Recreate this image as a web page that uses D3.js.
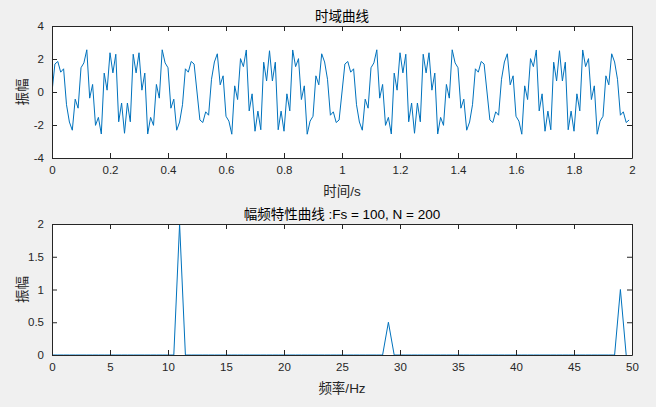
<!DOCTYPE html>
<html><head><meta charset="utf-8">
<script src="https://cdn.jsdelivr.net/npm/d3@7"></script>
<style>body{margin:0;background:#f0f0f0;}svg{display:block;}</style>
</head><body><svg id="c" width="656" height="407"></svg>
<script>
// time-domain samples (Fs = 100, N = 200), read/derived from the picture
const signalY = [
0,1.696,1.849,1.201,1.407,-0.772,-1.820,-2.316,-0.435,-0.981,1.470,1.765,2.558,-0.373,0.458,-2.022,-1.537,-2.547,1.145,0.111,2.377,1.159,2.288,-1.805,-0.667,
-2.500,-0.667,-1.805,2.288,1.159,2.377,0.111,1.145,-2.547,-1.537,-2.022,0.458,-0.373,2.558,1.765,1.470,-0.981,-0.435,-2.316,-1.820,-0.772,1.407,1.201,1.849,1.696,
0,-1.696,-1.849,-1.201,-1.407,0.772,1.820,2.316,0.435,0.981,-1.470,-1.765,-2.558,0.373,-0.458,2.022,1.537,2.547,-1.145,-0.111,-2.377,-1.159,-2.288,1.805,0.667,
2.500,0.667,1.805,-2.288,-1.159,-2.377,-0.111,-1.145,2.547,1.537,2.022,-0.458,0.373,-2.558,-1.765,-1.470,0.981,0.435,2.316,1.820,0.772,-1.407,-1.201,-1.849,-1.696,
0,1.696,1.849,1.201,1.407,-0.772,-1.820,-2.316,-0.435,-0.981,1.470,1.765,2.558,-0.373,0.458,-2.022,-1.537,-2.547,1.145,0.111,2.377,1.159,2.288,-1.805,-0.667,
-2.500,-0.667,-1.805,2.288,1.159,2.377,0.111,1.145,-2.547,-1.537,-2.022,0.458,-0.373,2.558,1.765,1.470,-0.981,-0.435,-2.316,-1.820,-0.772,1.407,1.201,1.849,1.696,
0,-1.696,-1.849,-1.201,-1.407,0.772,1.820,2.316,0.435,0.981,-1.470,-1.765,-2.558,0.373,-0.458,2.022,1.537,2.547,-1.145,-0.111,-2.377,-1.159,-2.288,1.805,0.667,
2.500,0.667,1.805,-2.288,-1.159,-2.377,-0.111,-1.145,2.547,1.537,2.022,-0.458,0.373,-2.558,-1.765,-1.470,0.981,0.435,2.316,1.820,0.772,-1.407,-1.201,-1.849,-1.696
];
const timeStep = 0.01;
// amplitude spectrum, bins 0..49.5 Hz step 0.5
const spectrumY = [
0,0,0,0,0,0,0,0,0,0, 0,0,0,0,0,0,0,0,0,0, 0,0,2,0,0,0,0,0,0,0,
0,0,0,0,0,0,0,0,0,0, 0,0,0,0,0,0,0,0,0,0, 0,0,0,0,0,0,0,0,0.5,0,
0,0,0,0,0,0,0,0,0,0, 0,0,0,0,0,0,0,0,0,0, 0,0,0,0,0,0,0,0,0,0,
0,0,0,0,0,0,0,0,1,0
];
const freqStep = 0.5;
const xTicksTop = [0,0.2,0.4,0.6,0.8,1,1.2,1.4,1.6,1.8,2];
const yTicksTop = [-4,-2,0,2,4];
const xTicksBot = [0,5,10,15,20,25,30,35,40,45,50];
const yTicksBot = [0,0.5,1,1.5,2];

const svg = d3.select("#c");
const AX = "#262626", LINE = "#0072BD";
const FONT = "'Liberation Sans', 'Noto Sans CJK SC', sans-serif";

function panel(cfg){
  const {left,right,top,bottom,xd,yd,xt,yt,data,step,title,xlabel,ylabel} = cfg;
  const x = d3.scaleLinear().domain(xd).range([left,right]);
  const y = d3.scaleLinear().domain(yd).range([bottom,top]);
  const g = svg.append("g");
  g.append("rect").attr("x",left).attr("y",top).attr("width",right-left).attr("height",bottom-top).attr("fill","#fff");
  const clipId = "clip"+top;
  svg.append("clipPath").attr("id",clipId).append("rect").attr("x",left).attr("y",top-1).attr("width",right-left).attr("height",bottom-top+2);
  g.append("path").datum(data).attr("clip-path",`url(#${clipId})`)
    .attr("fill","none").attr("stroke",LINE).attr("stroke-width",1)
    .attr("d", d3.line().x((d,i)=>x(i*step)).y(d=>y(d)));
  const fmt = d=>String(d);
  const ax = (gen, tr)=> g.append("g").attr("transform",tr).call(gen)
    .call(s=>{s.select(".domain").attr("stroke",AX);s.selectAll("line").attr("stroke",AX);
      s.selectAll("text").attr("fill",AX).style("font-family",FONT).style("font-size","11.5px");});
  ax(d3.axisBottom(x).tickValues(xt).tickFormat(fmt).tickSizeInner(-5).tickSizeOuter(0).tickPadding(8),`translate(0,${bottom})`);
  ax(d3.axisTop(x).tickValues(xt).tickFormat("").tickSizeInner(-5).tickSizeOuter(0),`translate(0,${top})`);
  ax(d3.axisLeft(y).tickValues(yt).tickFormat(fmt).tickSizeInner(-5).tickSizeOuter(0).tickPadding(8),`translate(${left},0)`);
  ax(d3.axisRight(y).tickValues(yt).tickFormat("").tickSizeInner(-5).tickSizeOuter(0),`translate(${right},0)`);
  g.append("text").attr("x",(left+right)/2).attr("y",top-5).attr("text-anchor","middle")
    .style("font-family",FONT).style("font-size","13.5px").attr("fill","#000").text(title);
  g.append("text").attr("x",(left+right)/2).attr("y",bottom+38).attr("text-anchor","middle")
    .style("font-family",FONT).style("font-size","13.5px").attr("fill",AX).text(xlabel);
  g.append("text").attr("transform",`translate(${left-25},${(top+bottom)/2}) rotate(-90)`).attr("text-anchor","middle")
    .style("font-family",FONT).style("font-size","13.5px").attr("fill",AX).text(ylabel);
}
panel({left:52,right:632,top:26,bottom:158,xd:[0,2],yd:[-4,4],xt:xTicksTop,yt:yTicksTop,data:signalY,step:timeStep,
  title:"时域曲线",xlabel:"时间/s",ylabel:"振幅"});
panel({left:52,right:632,top:224,bottom:355,xd:[0,50],yd:[0,2],xt:xTicksBot,yt:yTicksBot,data:spectrumY,step:freqStep,
  title:"幅频特性曲线 :Fs = 100, N = 200",xlabel:"频率/Hz",ylabel:"振幅"});
</script></body></html>
